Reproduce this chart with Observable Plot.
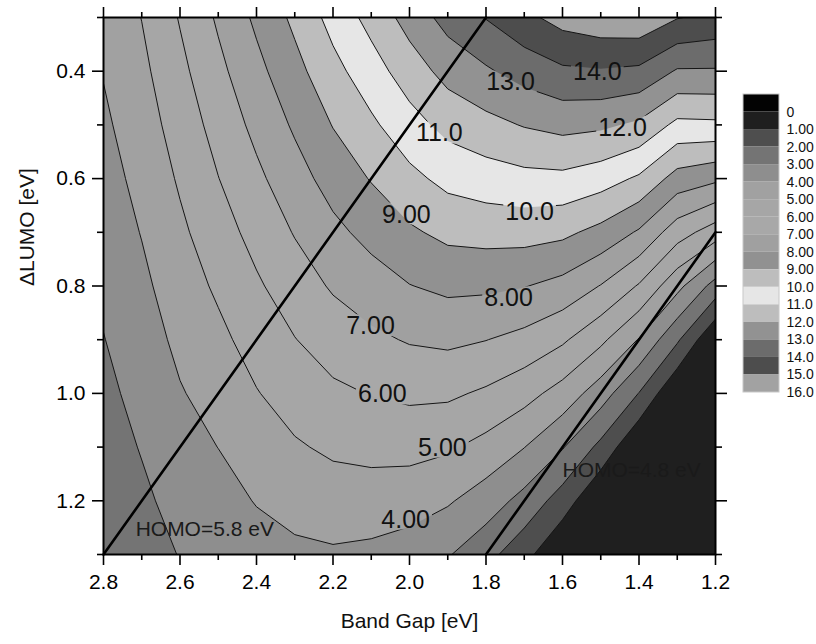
<!DOCTYPE html>
<html><head><meta charset="utf-8">
<script src="https://cdn.jsdelivr.net/npm/d3@7"></script>
<script src="https://cdn.jsdelivr.net/npm/@observablehq/plot@0.6"></script>
<style>
body{margin:0;background:#fff;}
#wrap{position:relative;width:816px;height:644px;overflow:hidden;font-family:"Liberation Sans",Arial,sans-serif;}
#wrap svg{position:absolute;left:0;top:0;}
</style></head><body><div id="wrap"></div>
<script>
// ---- data ----
const bandGap = [2.8,2.7,2.6,2.5,2.4,2.3,2.2,2.1,2.0,1.9,1.8,1.7,1.6,1.5,1.4,1.3,1.2];
const deltaLumo = [0.3,0.4,0.5,0.6,0.7,0.8,0.9,1.0,1.1,1.2,1.3];
// one row per deltaLumo value, columns follow bandGap
const effRow03 = [4.26,5.02,6.07,7.14,8.19,9.22,10.34,11.33,12.39,13.36,14.04,14.74,15.37,15.66,15.76,15.05,14.75];
const effRow04 = [4.05,4.77,5.75,6.75,7.72,8.68,9.69,10.57,11.50,12.34,12.87,13.40,13.83,13.92,13.79,12.90,12.90];
const effRow05 = [3.83,4.53,5.43,6.36,7.26,8.14,9.04,9.82,10.62,11.31,11.70,12.06,12.30,12.18,11.82,10.75,10.80];
const effRow06 = [3.62,4.28,5.12,5.98,6.79,7.60,8.40,9.06,9.74,10.28,10.53,10.72,10.76,10.44,9.85,8.60,8.20];
const effRow07 = [3.40,4.04,4.81,5.57,6.33,7.06,7.75,8.31,8.85,9.25,9.36,9.38,9.22,8.70,7.88,6.45,5.50];
const effRow08 = [3.19,3.79,4.51,5.16,5.86,6.52,7.11,7.55,7.97,8.22,8.19,8.04,7.69,6.96,5.91,4.30,2.60];
const effRow09 = [2.97,3.55,4.22,4.76,5.40,5.97,6.46,6.80,7.08,7.20,7.02,6.70,6.15,5.22,3.94,2.15,0];
const effRow10 = [2.76,3.30,3.93,4.37,4.95,5.43,5.81,6.04,6.20,6.17,5.85,5.36,4.61,3.48,1.97,0,0];
const effRow11 = [2.54,3.06,3.64,4.01,4.50,4.89,5.17,5.29,5.31,5.14,4.68,4.02,3.07,1.74,0,0,0];
const effRow12 = [2.33,2.81,3.34,3.64,4.05,4.34,4.52,4.53,4.43,4.11,3.51,2.68,1.54,0,0,0,0];
const effRow13 = [2.11,2.57,3.04,3.28,3.60,3.80,3.88,3.78,3.54,3.08,2.34,1.34,0,0,0,0,0];

const levels = [0,1,2,3,4,5,6,7,8,9,10,11,12,13,14,15];
const levelColors = ["#1f1f1f","#4e4e4e","#747474","#8e8e8e","#a1a1a1","#a6a6a6","#a8a8a8","#a0a0a0",
                     "#919191","#bdbdbd","#e6e6e6","#bdbdbd","#929292","#6c6c6c","#4d4d4d","#a2a2a2"];
const legendLabels = ["0","1.00","2.00","3.00","4.00","5.00","6.00","7.00","8.00","9.00","10.0","11.0","12.0","13.0","14.0","15.0","16.0"];
const belowZeroColor = "#030303";

const xMajor = [2.8,2.6,2.4,2.2,2.0,1.8,1.6,1.4,1.2];
const xMinor = [2.7,2.5,2.3,2.1,1.9,1.7,1.5,1.3];
const yMajor = [0.4,0.6,0.8,1.0,1.2];
const yMinor = [0.3,0.5,0.7,0.9,1.1,1.3];

const homo58 = [{bg:2.8, dl:1.3},{bg:1.8, dl:0.3}];
const homo48 = [{bg:1.8, dl:1.3},{bg:1.2, dl:0.7}];
const homoText = ["HOMO=5.8 eV","HOMO=4.8 eV"];
const homoTextBg = [2.716, 1.600];
const homoTextDl = [1.265, 1.155];

const contourText = ["4.00","5.00","6.00","7.00","8.00","9.00","10.0","11.0","12.0","13.0","14.0"];
const contourTextBg = [2.010,1.914,2.071,2.102,1.741,2.008,1.686,1.922,1.443,1.736,1.509];
const contourTextDl = [1.235,1.101,1.002,0.875,0.823,0.667,0.663,0.516,0.505,0.421,0.402];

// ---- build ----
const grid = [effRow03,effRow04,effRow05,effRow06,effRow07,effRow08,effRow09,effRow10,effRow11,effRow12,effRow13].flat();
const nx = bandGap.length, ny = deltaLumo.length;
const dxg = bandGap[1]-bandGap[0], dyg = deltaLumo[1]-deltaLumo[0];
const gridOpts = {
  width: nx, height: ny,
  x1: bandGap[0]-dxg/2, x2: bandGap[nx-1]+dxg/2,
  y1: deltaLumo[0]-dyg/2, y2: deltaLumo[ny-1]+dyg/2,
  thresholds: levels, clip: true
};
const FONT = "Liberation Sans, Arial, sans-serif";
const noText = () => "";

const chart = Plot.plot({
  width: 816, height: 644,
  marginLeft: 103, marginRight: 101, marginTop: 17, marginBottom: 90,
  x: {domain: [2.8, 1.2], label: null},
  y: {domain: [1.3, 0.3], label: null},
  color: {type: "ordinal", domain: levels, range: levelColors},
  style: {fontFamily: FONT, fontSize: "21px", color: "black", background: "white", overflow: "visible"},
  marks: [
    Plot.contour(grid, {...gridOpts, fill: Plot.identity, stroke: "none"}),
    Plot.contour(grid, {...gridOpts, value: Plot.identity, fill: "none", stroke: "#151515", strokeWidth: 1}),
    Plot.line(homo58, {x: "bg", y: "dl", stroke: "black", strokeWidth: 2.6}),
    Plot.line(homo48, {x: "bg", y: "dl", stroke: "black", strokeWidth: 2.6}),
    Plot.text(homoText, {x: (d,i) => homoTextBg[i], y: (d,i) => homoTextDl[i], text: d => d,
      textAnchor: "start", lineAnchor: "bottom", fontSize: 21, fill: "#1a1a1a"}),
    Plot.text(contourText, {x: (d,i) => contourTextBg[i], y: (d,i) => contourTextDl[i], text: d => d,
      fontSize: 25, fill: "#111"}),
    Plot.frame({stroke: "black", strokeWidth: 2}),
    Plot.axisX(xMajor, {anchor: "bottom", tickSize: 11, tickPadding: 9, tickFormat: ".1f", strokeWidth: 1.6, fontSize: 21, label: null}),
    Plot.axisX(xMinor, {anchor: "bottom", tickSize: 6, tickFormat: noText, strokeWidth: 1.6, label: null}),
    Plot.axisX(xMajor, {anchor: "top", tickSize: 11, tickFormat: noText, strokeWidth: 1.6, label: null}),
    Plot.axisX(xMinor, {anchor: "top", tickSize: 6, tickFormat: noText, strokeWidth: 1.6, label: null}),
    Plot.axisY(yMajor, {anchor: "left", tickSize: 11, tickPadding: 7, tickFormat: ".1f", strokeWidth: 1.6, fontSize: 21, label: null}),
    Plot.axisY(yMinor, {anchor: "left", tickSize: 6, tickFormat: noText, strokeWidth: 1.6, label: null}),
    Plot.axisY(yMajor, {anchor: "right", tickSize: 11, tickFormat: noText, strokeWidth: 1.6, label: null}),
    Plot.axisY(yMinor, {anchor: "right", tickSize: 6, tickFormat: noText, strokeWidth: 1.6, label: null}),
    Plot.text(["Band Gap [eV]"], {frameAnchor: "bottom", dy: 73, text: d => d, fontSize: 21, fill: "#111"}),
    Plot.text(["\u0394LUMO [eV]"], {frameAnchor: "left", dx: -76, rotate: -90, text: d => d, fontSize: 21, fill: "#111"})
  ]
});
const wrap = document.getElementById("wrap");
wrap.appendChild(chart);

// legend (bands between successive labels; top swatch = below 0)
const legendColors = [belowZeroColor, ...levelColors];
const legendBands = legendColors.map((c, i) => ({lo: i - 1, hi: i, c}));
const legend = Plot.plot({
  width: 73, height: 320, margin: 0,
  x: {domain: [0, 1], range: [0, 36], axis: null},
  y: {domain: [-1, 16], range: [0, 298], axis: null},
  style: {fontFamily: FONT, background: "transparent", overflow: "visible"},
  marks: [
    Plot.rect(legendBands, {x1: 0, x2: 1, y1: "lo", y2: "hi", fill: "c"}),
    Plot.rect([0], {x1: 0, x2: 1, y1: -1, y2: 16, fill: "none", stroke: "#c8c8c8", strokeWidth: 1}),
    Plot.text(legendLabels, {x: 1, y: (d, i) => i, text: d => d, dx: 7, textAnchor: "start", fontSize: 14, fill: "#111"})
  ]
});
legend.style.left = "743px";
legend.style.top = "94px";
wrap.appendChild(legend);

// break contour lines under their labels
(function(){
  const ns = "http://www.w3.org/2000/svg";
  const svgBox = chart.getBoundingClientRect();
  const cg = chart.querySelectorAll('g[aria-label="contour"]');
  const strokeG = cg[cg.length - 1];
  const labelSet = new Set(contourText);
  const texts = Array.from(chart.querySelectorAll('g[aria-label="text"] text')).filter(t => labelSet.has(t.textContent));
  const defs = document.createElementNS(ns, "defs");
  const mask = document.createElementNS(ns, "mask");
  mask.setAttribute("id", "lblmask");
  mask.setAttribute("maskUnits", "userSpaceOnUse");
  mask.setAttribute("x", 0); mask.setAttribute("y", 0);
  mask.setAttribute("width", 816); mask.setAttribute("height", 644);
  const full = document.createElementNS(ns, "rect");
  full.setAttribute("x", 0); full.setAttribute("y", 0);
  full.setAttribute("width", 816); full.setAttribute("height", 644);
  full.setAttribute("fill", "white");
  mask.appendChild(full);
  texts.forEach(t => {
    const b = t.getBoundingClientRect();
    const r = document.createElementNS(ns, "rect");
    r.setAttribute("x", b.left - svgBox.left - 2);
    r.setAttribute("y", b.top - svgBox.top + 3);
    r.setAttribute("width", b.width + 4);
    r.setAttribute("height", Math.max(0, b.height - 6));
    r.setAttribute("fill", "black");
    mask.appendChild(r);
  });
  defs.appendChild(mask);
  chart.insertBefore(defs, chart.firstChild);
  if (strokeG) {
    const wrapG = document.createElementNS(ns, "g");
    wrapG.setAttribute("mask", "url(#lblmask)");
    strokeG.parentNode.insertBefore(wrapG, strokeG);
    wrapG.appendChild(strokeG);
  }
})();
</script>
</body></html>
